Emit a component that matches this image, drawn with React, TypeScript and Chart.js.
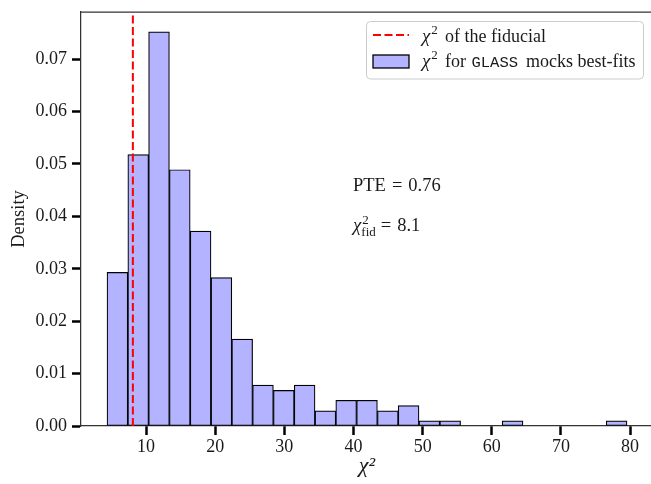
import React, { useEffect, useRef } from "react";
import { Chart, registerables } from "chart.js";

Chart.register(...registerables);

// ---- data ----
const binEdges = [
  4.36, 7.37, 10.38, 13.38, 16.39, 19.4, 22.41, 25.41, 28.42, 31.43, 34.44, 37.44, 40.45,
  43.46, 46.47, 49.47, 52.48, 55.49, 58.5, 61.5, 64.51, 67.52, 70.53, 73.54, 76.54, 79.55,
];
const densities = [
  0.0293, 0.0518, 0.0752, 0.0489, 0.0372, 0.0283, 0.0166, 0.0078, 0.0068, 0.0078, 0.0029,
  0.0049, 0.0049, 0.0029, 0.0039, 0.001, 0.001, 0, 0, 0.001, 0, 0, 0, 0, 0.001,
];
const fiducialChi2 = 8.1;
const pteValue = 0.76;
const xTickValues = [10, 20, 30, 40, 50, 60, 70, 80];
const yTickValues = [0, 0.01, 0.02, 0.03, 0.04, 0.05, 0.06, 0.07];
const xRange = [0.6, 83.31];
const yRange = [0, 0.079];

const SERIF = '"Liberation Serif", "DejaVu Serif", serif';
const MONO = '"Liberation Mono", "DejaVu Sans Mono", monospace';
const BAR_FILL = "#b3b3ff";
const TEXT = "#1a1a1a";

const overlayPlugin = {
  id: "overlay",
  afterDraw(chart: any) {
    const ctx = chart.ctx as CanvasRenderingContext2D;
    const area = chart.chartArea;
    ctx.save();
    // top spine
    ctx.strokeStyle = "#333";
    ctx.lineWidth = 1.25;
    ctx.beginPath();
    ctx.moveTo(area.left, area.top);
    ctx.lineTo(area.right, area.top);
    ctx.stroke();

    // legend box
    ctx.beginPath();
    (ctx as any).roundRect(366.5, 21.5, 277, 57.5, 4);
    ctx.fillStyle = "rgba(255,255,255,0.8)";
    ctx.fill();
    ctx.strokeStyle = "#cccccc";
    ctx.lineWidth = 1;
    ctx.stroke();

    // legend handle 1: dashed red line
    ctx.strokeStyle = "red";
    ctx.lineWidth = 2;
    ctx.setLineDash([8, 3.5]);
    ctx.beginPath();
    ctx.moveTo(373, 35);
    ctx.lineTo(409, 35);
    ctx.stroke();
    ctx.setLineDash([]);

    // legend handle 2: patch
    ctx.fillStyle = BAR_FILL;
    ctx.fillRect(373, 55, 36, 13);
    ctx.strokeStyle = "#000";
    ctx.lineWidth = 1.3;
    ctx.strokeRect(373, 55, 36, 13);

    ctx.fillStyle = TEXT;
    ctx.textBaseline = "alphabetic";
    ctx.textAlign = "left";

    // chi with superscript (and optional subscript); returns x end
    const chi = (x: number, y: number, sub?: string) => {
      ctx.font = `italic 19px ${SERIF}`;
      ctx.fillText("χ", x, y);
      const w = ctx.measureText("χ").width;
      ctx.font = `13px ${SERIF}`;
      ctx.fillText("2", x + w + 1, y - 7.5);
      let end = x + w + 1 + ctx.measureText("2").width;
      if (sub) {
        ctx.fillText(sub, x + w, y + 5);
        end = Math.max(end, x + w + ctx.measureText(sub).width);
      }
      return end;
    };

    // legend row 1
    chi(422, 41.5);
    ctx.font = `18px ${SERIF}`;
    ctx.fillText("of the fiducial", 445, 41.5);
    // legend row 2
    chi(422, 66.5);
    ctx.font = `18px ${SERIF}`;
    ctx.fillText("for", 445, 66.5);
    ctx.font = `15.5px ${MONO}`;
    ctx.fillText("GLASS", 471.5, 66.5);
    ctx.font = `18px ${SERIF}`;
    ctx.fillText("mocks best-fits", 526, 66.5);

    // annotations
    const gap = 6;
    ctx.font = `18.5px ${SERIF}`;
    let x = 353;
    const y1 = 190.5;
    ctx.fillText("PTE", x, y1);
    x += ctx.measureText("PTE").width + gap;
    ctx.fillText("=", x, y1);
    x += ctx.measureText("=").width + gap;
    ctx.fillText(pteValue.toFixed(2), x, y1);

    const y2 = 231;
    x = chi(353, y2, "fid") + 5;
    ctx.font = `18.5px ${SERIF}`;
    ctx.fillText("=", x, y2);
    x += ctx.measureText("=").width + gap;
    ctx.fillText(fiducialChi2.toFixed(1), x, y2);
    ctx.restore();
  },
};

export default function App() {
  const canvasRef = useRef<HTMLCanvasElement | null>(null);

  useEffect(() => {
    const canvas = canvasRef.current;
    if (!canvas) return;
    const barPoints = densities.map((d, i) => ({
      x: (binEdges[i] + binEdges[i + 1]) / 2,
      y: d,
    }));
    const tickGrid = {
      display: true,
      drawOnChartArea: false,
      drawTicks: true,
      tickLength: 9,
      tickWidth: 2.5,
      tickColor: "#000",
      offset: false,
    };
    const chart = new Chart(canvas, {
      type: "bar",
      data: {
        datasets: [
          {
            type: "line",
            label: "fiducial",
            data: [
              { x: fiducialChi2, y: yRange[0] },
              { x: fiducialChi2, y: yRange[1] },
            ],
            borderColor: "red",
            borderWidth: 2,
            borderDash: [8, 3.5],
            pointRadius: 0,
            fill: false,
            order: 0,
          } as any,
          {
            type: "bar",
            label: "mocks",
            data: barPoints,
            backgroundColor: BAR_FILL,
            borderColor: "#000",
            borderWidth: 1.2,
            borderSkipped: false,
            barPercentage: 1,
            categoryPercentage: 1,
            order: 1,
          } as any,
        ],
      },
      options: {
        animation: false,
        responsive: false,
        events: [],
        layout: { padding: { left: 0, top: 12, right: 7, bottom: 0 } },
        plugins: { legend: { display: false }, tooltip: { enabled: false } },
        scales: {
          x: {
            type: "linear",
            min: xRange[0],
            max: xRange[1],
            offset: false,
            afterBuildTicks: (s: any) => {
              s.ticks = xTickValues.map((v) => ({ value: v }));
            },
            afterFit: (s: any) => {
              s.height = 58;
              s.paddingLeft = 0;
              s.paddingRight = 0;
            },
            grid: tickGrid,
            border: { display: true, color: "#333", width: 1.25 },
            ticks: {
              font: { family: SERIF, size: 18 },
              color: TEXT,
              padding: 1,
              maxRotation: 0,
              autoSkip: false,
              callback: (v: any) => String(v),
            },
            title: {
              display: true,
              text: "χ²",
              font: { family: SERIF, size: 22, style: "italic" },
              color: TEXT,
              padding: { top: 0, bottom: 5 },
            },
          },
          y: {
            type: "linear",
            min: yRange[0],
            max: yRange[1],
            afterBuildTicks: (s: any) => {
              s.ticks = yTickValues.map((v) => ({ value: v }));
            },
            afterFit: (s: any) => {
              s.width = 81;
              s.paddingTop = 0;
              s.paddingBottom = 0;
            },
            grid: tickGrid,
            border: { display: true, color: "#333", width: 1.25 },
            ticks: {
              font: { family: SERIF, size: 18 },
              color: TEXT,
              padding: 5,
              autoSkip: false,
              callback: (v: any) => Number(v).toFixed(2),
            },
            title: {
              display: true,
              text: "Density",
              font: { family: SERIF, size: 18.5 },
              color: TEXT,
              padding: { top: 8, bottom: 0 },
            },
          },
        },
      } as any,
      plugins: [overlayPlugin],
    });
    return () => chart.destroy();
  }, []);

  return (
    <div
      style={{
        position: "fixed",
        left: 0,
        top: 0,
        width: 651,
        height: 484,
        overflow: "hidden",
        background: "#fff",
      }}
    >
      <canvas ref={canvasRef} width={660} height={484} style={{ display: "block" }} />
    </div>
  );
}
